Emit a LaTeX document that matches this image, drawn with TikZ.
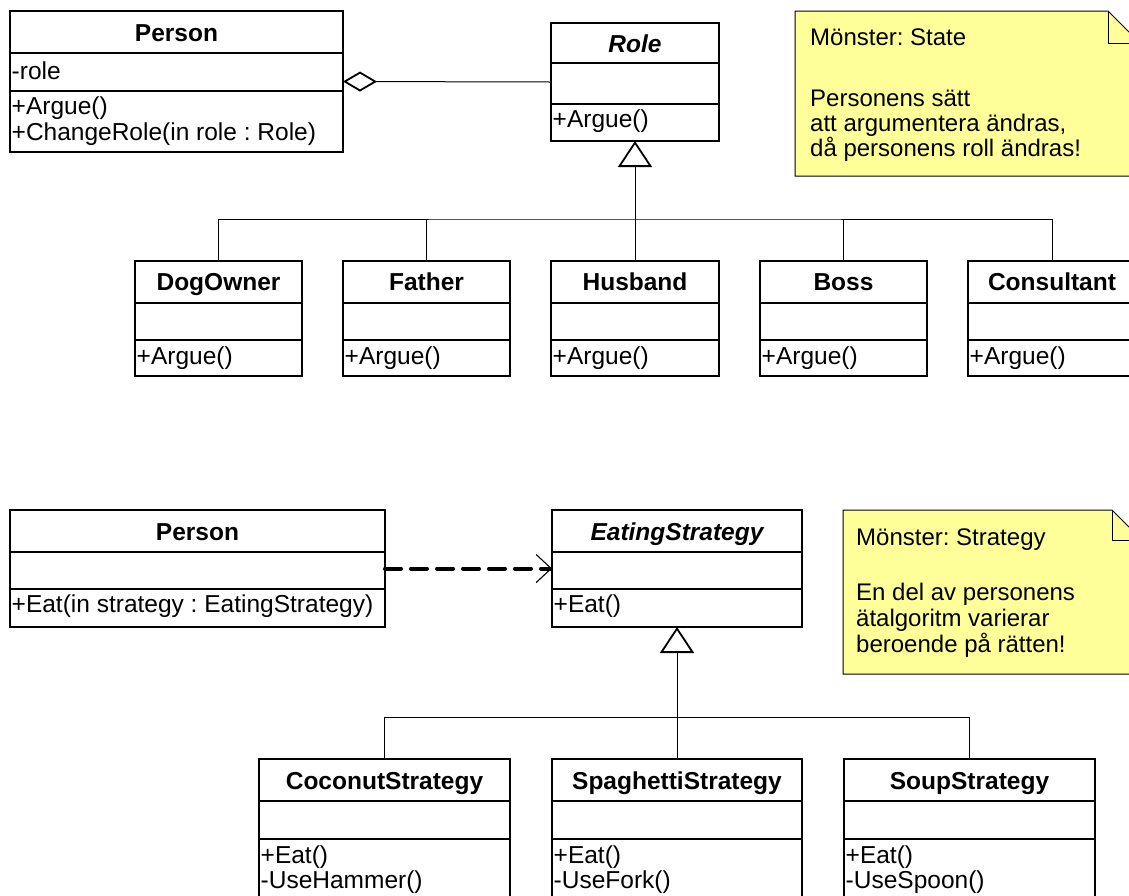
\documentclass[tikz,border=0pt]{standalone}
\usepackage{fontspec}
\setmainfont{Liberation Sans}
\usetikzlibrary{arrows.meta}
\definecolor{notefill}{RGB}{255,255,153}
\frenchspacing

\tikzset{
  classframe/.style={draw, line width=1.8pt, inner sep=0pt, outer sep=0pt, anchor=north west},
  divider/.style={line width=1.8pt},
  conn/.style={line width=1pt},
  titletext/.style={anchor=base, inner sep=0pt, font=\fontsize{24.5}{27}\selectfont\bfseries},
  abstracttext/.style={anchor=base, inner sep=0pt, font=\fontsize{24.5}{27}\selectfont\bfseries\itshape},
  membertext/.style={anchor=base west, inner sep=0pt, font=\fontsize{24.5}{27}\selectfont},
  notetext/.style={anchor=base west, inner sep=0pt, font=\fontsize{24}{27}\selectfont},
  notebody/.style={draw, line width=1pt, fill=notefill},
  generalization/.style={conn, -{Triangle[open, length=26pt, width=34pt, line width=1.8pt]}},
  aggregation/.style={conn, {Diamond[open, length=34pt, width=20pt, line width=1.8pt]}-},
  dependency/.style={line width=4pt, line cap=round, dash pattern=on 16pt off 10pt,
    -{Straight Barb[length=15pt, width=28pt, line width=1.1pt]}},
}

% class box: name, left, top, right, bottom, first divider, second divider
\newcommand\umlbox[7]{%
  \pgfmathsetmacro\boxw{#4-#2}%
  \pgfmathsetmacro\boxh{#5-#3}%
  \node[classframe, minimum width=\boxw pt, minimum height=\boxh pt] (#1) at (#2,#3) {};
  \draw[divider] (#2,#6) -- (#4,#6);
  \draw[divider] (#2,#7) -- (#4,#7);
}

% note with folded corner: left, top, right, bottom, fold size
\newcommand\umlnote[5]{%
  \pgfmathsetmacro\foldx{#3-#5}%
  \pgfmathsetmacro\foldy{#2+#5}%
  \draw[notebody] (#1,#2) -- (\foldx,#2) -- (#3,\foldy) -- (#3,#4) -- (#1,#4) -- cycle;
  \draw[line width=1pt] (\foldx,#2) -- (\foldx,\foldy) -- (#3,\foldy);
}

\begin{document}
\begin{tikzpicture}[x=1pt, y=-1pt]
\useasboundingbox (0,0) rectangle (1129,895);
\clip (0,0) rectangle (1129,895);

% ---------- State pattern ----------
\umlbox{person}{10}{11}{343}{152}{53}{91}
\node[titletext] (personT) at (176.5,41) {Person};
\node[membertext] (personA) at (11.5,79) {-role};
\node[membertext] (personO1) at (11.5,114) {+Argue()};
\node[membertext] (personO2) at (11.5,140) {+ChangeRole(in role : Role)};

\umlbox{role}{551}{23}{719}{141}{63}{104}
\node[abstracttext] (roleT) at (635,52) {Role};
\node[membertext] (roleO) at (552.5,127) {+Argue()};

\umlbox{dog}{135}{261}{302}{376}{303}{340}
\node[titletext] (dogT) at (218.5,290) {DogOwner};
\node[membertext] (dogO) at (136.5,364) {+Argue()};

\umlbox{father}{343}{261}{510}{376}{303}{340}
\node[titletext] (fatherT) at (426.5,290) {Father};
\node[membertext] (fatherO) at (344.5,364) {+Argue()};

\umlbox{husband}{551}{261}{719}{376}{303}{340}
\node[titletext] (husbandT) at (635,290) {Husband};
\node[membertext] (husbandO) at (552.5,364) {+Argue()};

\umlbox{boss}{760}{261}{927}{376}{303}{340}
\node[titletext] (bossT) at (843.5,290) {Boss};
\node[membertext] (bossO) at (761.5,364) {+Argue()};

\umlbox{consultant}{968}{261}{1136}{376}{303}{340}
\node[titletext] (consultantT) at (1052,290) {Consultant};
\node[membertext] (consultantO) at (969.5,364) {+Argue()};

\draw[aggregation] (person.east) -- (role.west);
\draw[generalization] (husband.north) -- (role.south);
\coordinate (bar1) at (635,219);
\draw[conn] (dog.north) |- (bar1) -| (consultant.north);
\draw[conn] (father.north) -- (father.north |- bar1);
\draw[conn] (boss.north) -- (boss.north |- bar1);

\umlnote{795}{11}{1140}{176}{32}
\node[notetext] (stateN1) at (810,45) {Mönster: State};
\node[notetext] (stateN2) at (810,106) {Personens sätt};
\node[notetext] (stateN3) at (810,131) {att argumentera ändras,};
\node[notetext] (stateN4) at (810,156) {då personens roll ändras!};

% ---------- Strategy pattern ----------
\umlbox{eater}{10}{510}{385}{627}{552}{589}
\node[titletext] (eaterT) at (197.5,540) {Person};
\node[membertext] (eaterO) at (11.5,612) {+Eat(in strategy : EatingStrategy)};

\umlbox{eating}{552}{510}{802}{627}{552}{589}
\node[abstracttext] (eatingT) at (677,540) {EatingStrategy};
\node[membertext] (eatingO) at (553.5,612) {+Eat()};

\umlbox{coconut}{259}{759}{510}{930}{801}{839}
\node[titletext] (coconutT) at (384.5,789) {CoconutStrategy};
\node[membertext] (coconutO1) at (260.5,863) {+Eat()};
\node[membertext] (coconutO2) at (260.5,888) {-UseHammer()};

\umlbox{spaghetti}{552}{759}{802}{930}{801}{839}
\node[titletext] (spaghettiT) at (677,789) {SpaghettiStrategy};
\node[membertext] (spaghettiO1) at (553.5,863) {+Eat()};
\node[membertext] (spaghettiO2) at (553.5,888) {-UseFork()};

\umlbox{soup}{844}{759}{1095}{930}{801}{839}
\node[titletext] (soupT) at (969.5,789) {SoupStrategy};
\node[membertext] (soupO1) at (845.5,863) {+Eat()};
\node[membertext] (soupO2) at (845.5,888) {-UseSpoon()};

\draw[dependency] (eater.east) -- (eating.west);
\draw[generalization] (spaghetti.north) -- (eating.south);
\coordinate (bar2) at (677,717);
\draw[conn] (coconut.north) |- (bar2) -| (soup.north);

\umlnote{843}{510}{1142}{674}{30}
\node[notetext] (stratN1) at (856,545) {Mönster: Strategy};
\node[notetext] (stratN2) at (856,600) {En del av personens};
\node[notetext] (stratN3) at (856,626) {ätalgoritm varierar};
\node[notetext] (stratN4) at (856,652) {beroende på rätten!};
\end{tikzpicture}
\end{document}
